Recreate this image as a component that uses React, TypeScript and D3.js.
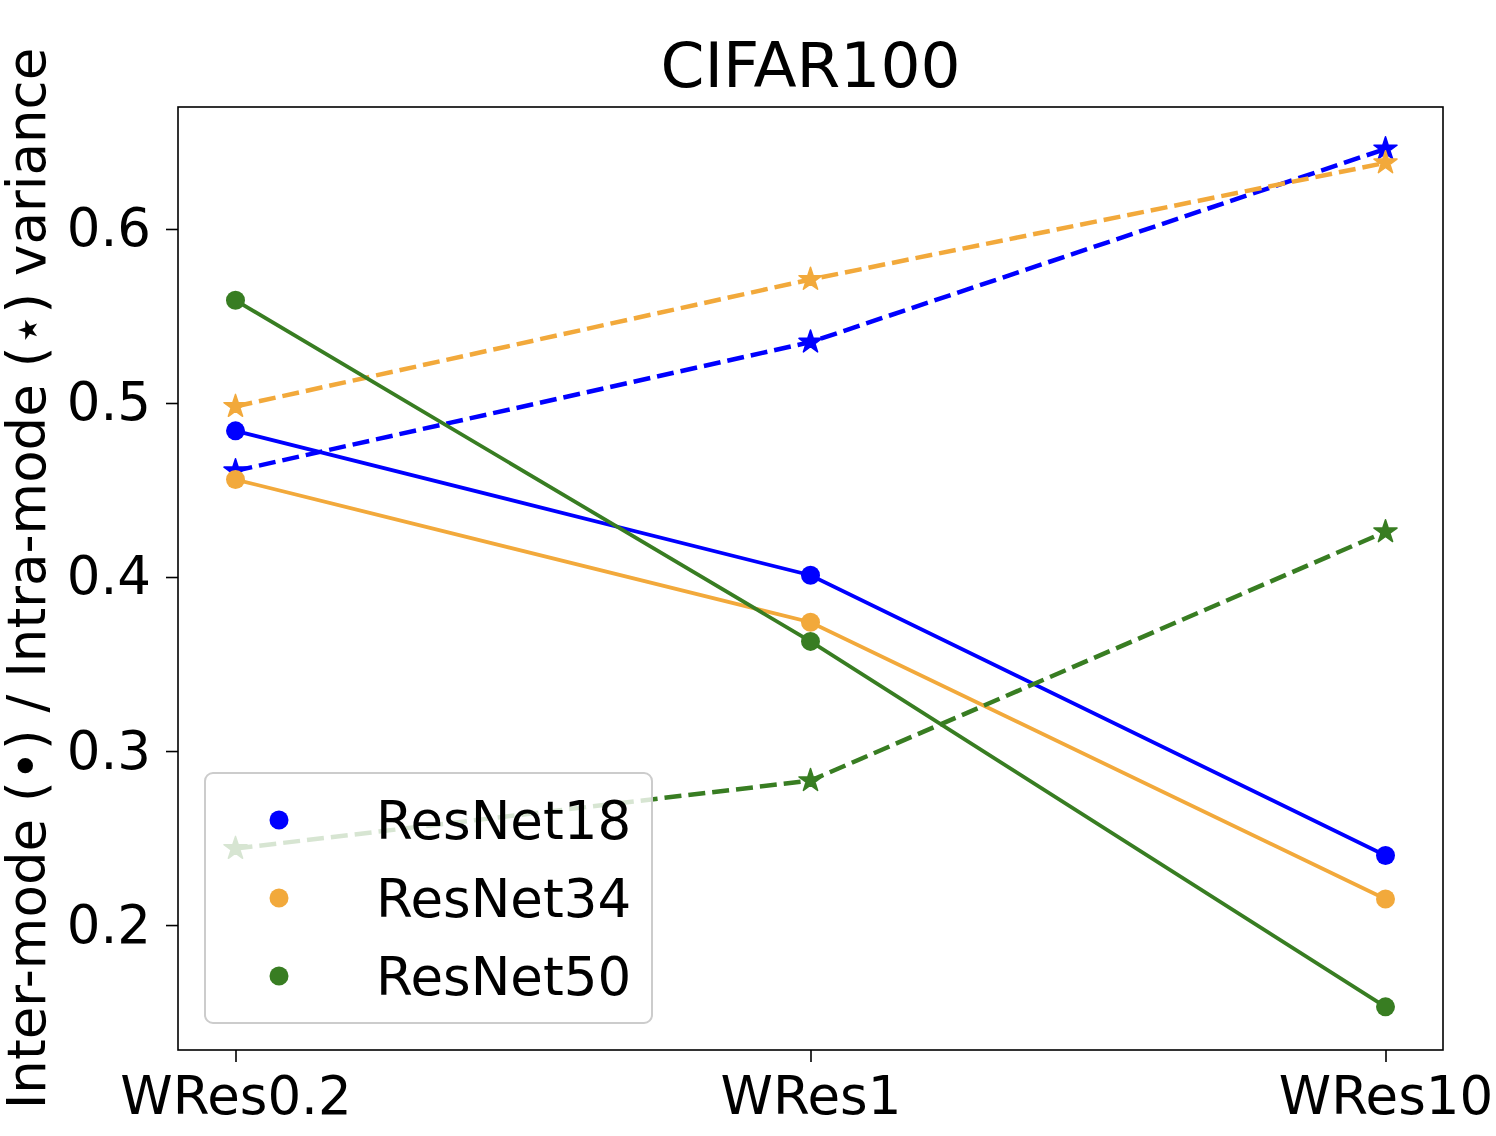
import React, { useEffect, useRef } from 'react';
import * as d3 from 'd3';

const categories = ['WRes0.2', 'WRes1', 'WRes10'];
const models = ['ResNet18', 'ResNet34', 'ResNet50'];
const colors = ['#0000ff', '#f2a93b', '#387d22'];
// inter-mode variance (circles, solid)
const interResNet18 = [0.484, 0.401, 0.240];
const interResNet34 = [0.456, 0.374, 0.215];
const interResNet50 = [0.559, 0.363, 0.153];
// intra-mode variance (stars, dashed)
const intraResNet18 = [0.461, 0.535, 0.646];
const intraResNet34 = [0.498, 0.571, 0.638];
const intraResNet50 = [0.244, 0.283, 0.426];
const yTicks = [0.2, 0.3, 0.4, 0.5, 0.6];

const inter = [interResNet18, interResNet34, interResNet50];
const intra = [intraResNet18, intraResNet34, intraResNet50];

const W = 1496;
const H = 1136;
const FONT = 'DejaVu Sans, sans-serif';

export default function App() {
  const ref = useRef<SVGSVGElement | null>(null);

  useEffect(() => {
    document.body.style.margin = '0';
    if (!ref.current) return;
    const svg = d3.select(ref.current);
    svg.selectAll('*').remove();

    const left = 178, right = 1443, top = 107, bottom = 1050;

    const x = d3.scaleLinear().domain([-0.1, 2.1]).range([left, right]);
    const y = d3.scaleLinear().domain([0.1282, 0.6701]).range([bottom, top]);

    svg.append('rect').attr('width', W).attr('height', H).attr('fill', 'white');

    const line = d3.line<number>().x((_, i) => x(i)).y(d => y(d));
    const star = d3.symbol().type(d3.symbolStar).size(165);

    models.forEach((m, k) => {
      const g = svg.append('g');
      g.append('path')
        .datum(inter[k])
        .attr('fill', 'none')
        .attr('stroke', colors[k])
        .attr('stroke-width', 3.8)
        .attr('d', line);
      g.selectAll('circle')
        .data(inter[k])
        .join('circle')
        .attr('cx', (_, i) => x(i))
        .attr('cy', d => y(d))
        .attr('r', 9.5)
        .attr('fill', colors[k]);
      g.append('path')
        .datum(intra[k])
        .attr('fill', 'none')
        .attr('stroke', colors[k])
        .attr('stroke-width', 4.5)
        .attr('stroke-dasharray', '17,7')
        .attr('d', line);
      g.selectAll('path.star')
        .data(intra[k])
        .join('path')
        .attr('class', 'star')
        .attr('transform', (d, i) => `translate(${x(i)},${y(d)})`)
        .attr('d', star)
        .attr('fill', colors[k])
        .attr('stroke', colors[k])
        .attr('stroke-width', 1.5)
        .attr('stroke-linejoin', 'round');
    });

    // frame
    svg.append('rect')
      .attr('x', left).attr('y', top)
      .attr('width', right - left).attr('height', bottom - top)
      .attr('fill', 'none').attr('stroke', 'black').attr('stroke-width', 1.6);

    // x axis
    const xa = svg.append('g').attr('transform', `translate(0,${bottom})`)
      .call(d3.axisBottom(x).tickValues([0, 1, 2]).tickFormat((_, i) => categories[i]).tickSize(12).tickPadding(14));
    xa.select('.domain').remove();
    xa.selectAll('line').attr('stroke-width', 1.6);
    xa.selectAll('text').attr('font-size', 53).attr('font-family', FONT).attr('fill', 'black');

    const ya = svg.append('g').attr('transform', `translate(${left},0)`)
      .call(d3.axisLeft(y).tickValues(yTicks).tickFormat(d3.format('.1f')).tickSize(12).tickPadding(15));
    ya.select('.domain').remove();
    ya.selectAll('line').attr('stroke-width', 1.6);
    ya.selectAll('text').attr('font-size', 53).attr('font-family', FONT).attr('fill', 'black');

    // title
    svg.append('text')
      .attr('x', (left + right) / 2).attr('y', 87)
      .attr('text-anchor', 'middle')
      .attr('font-size', 63).attr('font-family', FONT)
      .text('CIFAR100');

    // y label
    svg.append('text')
      .attr('transform', `translate(45,${(top + bottom) / 2}) rotate(-90)`)
      .attr('text-anchor', 'middle')
      .attr('font-size', 53).attr('font-family', FONT)
      .text('Inter-mode (\u2022) / Intra-mode (\u22c6) variance');

    // legend
    const lg = svg.append('g');
    lg.append('rect')
      .attr('x', 205).attr('y', 773).attr('width', 447).attr('height', 250)
      .attr('rx', 8)
      .attr('fill', 'white').attr('fill-opacity', 0.8)
      .attr('stroke', '#cccccc').attr('stroke-width', 2);
    models.forEach((m, k) => {
      const cy = 820 + k * 78;
      lg.append('circle').attr('cx', 279).attr('cy', cy).attr('r', 9.5).attr('fill', colors[k]);
      lg.append('text')
        .attr('x', 376).attr('y', cy + 19)
        .attr('font-size', 53).attr('font-family', FONT)
        .text(m);
    });
  }, []);

  return <svg ref={ref} width={W} height={H} style={{ display: 'block' }} />;
}
